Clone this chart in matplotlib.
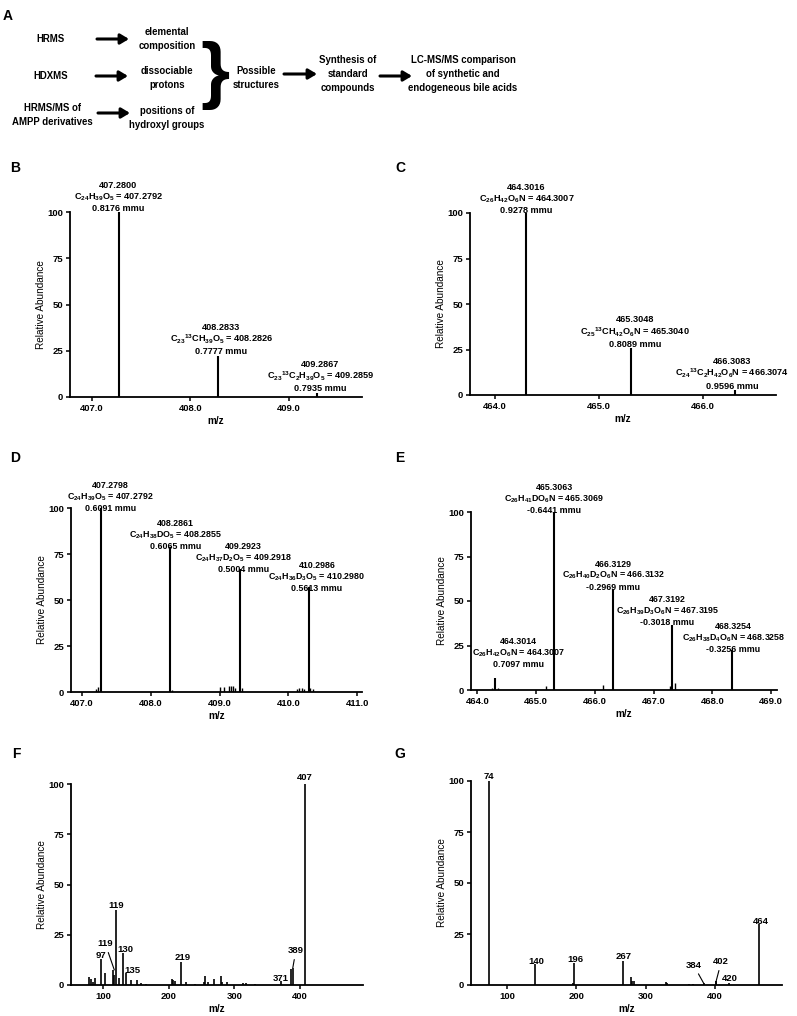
import numpy as np
import matplotlib
matplotlib.use("Agg")
import matplotlib.pyplot as plt

plt.rcParams['font.family'] = ['Liberation Sans', 'DejaVu Sans']
plt.rcParams['mathtext.default'] = 'regular'

W, H = 797, 1016
fig = plt.figure(figsize=(W / 100, H / 100), dpi=100)

# ---- data ----
# panel B: HRMS of bile acid
b_mz = [407.2800, 408.2833, 409.2867]
b_int = [100, 22, 2]
b_txt = ["407.2800\nC$_{24}$H$_{39}$O$_5$ = 407.2792\n0.8176 mmu",
         "408.2833\nC$_{23}$$^{13}$CH$_{39}$O$_5$ = 408.2826\n0.7777 mmu",
         "409.2867\nC$_{23}$$^{13}$C$_2$H$_{39}$O$_5$ = 409.2859\n0.7935 mmu"]
b_off = [(-1, -1), (3, 0), (3, 0)]

# panel C: HRMS of AMPP derivative
c_mz = [464.3016, 465.3048, 466.3083]
c_int = [100, 26, 3]
c_txt = ["464.3016\nC$_{26}$H$_{42}$O$_6$N = 464.3007\n0.9278 mmu",
         "465.3048\nC$_{25}$$^{13}$CH$_{42}$O$_6$N = 465.3040\n0.8089 mmu",
         "466.3083\nC$_{24}$$^{13}$C$_2$H$_{42}$O$_6$N = 466.3074\n0.9596 mmu"]
c_off = [(0, -2), (4, -1), (-3, -1)]

# panel D: HDXMS of bile acid
d_mz = [407.2798, 408.2861, 409.2923, 410.2986]
d_int = [100, 79, 67, 57]
d_minor_mz = [407.20, 407.23, 408.31, 409.00, 409.07, 409.13, 409.16, 409.20, 409.23, 409.33,
              410.12, 410.16, 410.20, 410.23, 410.31, 410.36]
d_minor_int = [1.5, 2.5, 1.0, 2.5, 2.5, 3.0, 3.5, 3.0, 2.0, 2.0, 1.5, 2.0, 2.0, 1.5, 2.0, 1.5]
d_txt = ["407.2798\nC$_{24}$H$_{39}$O$_5$ = 407.2792\n0.6091 mmu",
         "408.2861\nC$_{24}$H$_{38}$DO$_5$ = 408.2855\n0.6065 mmu",
         "409.2923\nC$_{24}$H$_{37}$D$_2$O$_5$ = 409.2918\n0.5004 mmu",
         "410.2986\nC$_{24}$H$_{36}$D$_3$O$_5$ = 410.2980\n0.5613 mmu"]
d_off = [(9, -5), (5, -4), (4, -5), (8, -6)]

# panel E: HDXMS of AMPP derivative
e_mz = [464.3014, 465.3063, 466.3129, 467.3192, 468.3254]
e_int = [6.7, 100, 57, 36.5, 22.5]
e_minor_mz = [464.25, 464.35, 465.17, 466.14, 467.28, 467.36]
e_minor_int = [1.0, 1.0, 2.0, 3.0, 2.0, 4.0]
e_txt = ["464.3014\nC$_{26}$H$_{42}$O$_6$N = 464.3007\n0.7097 mmu",
         "465.3063\nC$_{26}$H$_{41}$DO$_6$N = 465.3069\n-0.6441 mmu",
         "466.3129\nC$_{26}$H$_{40}$D$_2$O$_6$N = 466.3132\n-0.2969 mmu",
         "467.3192\nC$_{26}$H$_{39}$D$_3$O$_6$N = 467.3195\n-0.3018 mmu",
         "468.3254\nC$_{26}$H$_{38}$D$_4$O$_6$N = 468.3258\n-0.3256 mmu"]
e_off = [(23, 9), (0, -3), (0, -3), (-5, -2), (2, -4)]

# panel F: HRMS/MS of bile acid
f_mz = [78, 81, 84, 88, 97, 103, 115, 117, 119, 124, 130, 135, 143, 152, 158, 165,
        205, 207, 209, 219, 226, 240, 253, 255, 260, 269, 279, 281, 289, 313, 317, 331,
        371, 387, 389, 407]
f_int = [4, 3, 1.5, 3.5, 13, 6, 7.5, 5, 37.5, 3.5, 16, 6, 2.5, 2.5, 0.8, 0.5,
         3, 2.5, 2, 11.5, 1.5, 0.3, 1.5, 4.5, 1.5, 3, 4.5, 1.5, 1.5, 1.2, 1, 0.3,
         2, 8, 8.5, 100]
f_lab = ["407", "119", "97", "130", "135", "219", "371"]
f_lab_mz = [407, 119, 97, 130, 135, 219, 371]
f_lab_int = [100, 37.5, 13, 16, 6, 11.5, 2]
f_lab_off = [(0, 2), (1, 0), (0, -1), (3, -1), (6, -2), (1, 0), (0, -2)]
f_lead = ["119", "389"]
f_lead_mz = [117, 389]
f_lead_int = [7.5, 8.5]
f_lead_off = [(-9, 26), (3, 17)]

# panel G: HRMS/MS of AMPP derivative
g_mz = [74, 140, 195, 196, 267, 279, 281, 283, 329, 331, 363, 368, 384, 401, 402, 420, 464]
g_int = [100, 10.5, 1, 11, 12, 4, 2, 2, 1.5, 1, 0.3, 0.3, 0.8, 2, 2, 0.8, 30]
g_lab = ["74", "140", "196", "267", "464", "420"]
g_lab_mz = [74, 140, 196, 267, 464, 420]
g_lab_int = [100, 10.5, 11, 12, 30, 0.8]
g_lab_off = [(0, 0), (2, -2), (2, -1), (1, 0), (2, -2), (1, 0)]
g_lead = ["384", "402"]
g_lead_mz = [384, 402]
g_lead_int = [0.8, 2]
g_lead_off = [(-10, 18), (5, 19)]

# ---- helpers ----
def fx(px):
    return px / W

def fy(py):
    return 1 - py / H

def make_ax(l, t, r, b):
    return fig.add_axes([l / W, 1 - b / H, (r - l) / W, (b - t) / H])

PX = 0.72  # points per pixel

def spectrum(ax, mz, inten, xlim, xticks, fmt, lw=1.5):
    ax.vlines(mz, 0, inten, color='black', lw=lw)
    ax.set_xlim(*xlim)
    ax.set_ylim(0, 100)
    ax.set_yticks([0, 25, 50, 75, 100])
    ax.set_xticks(xticks)
    ax.set_xticklabels([fmt % t for t in xticks])
    for s in ['top', 'right']:
        ax.spines[s].set_visible(False)
    for s in ['left', 'bottom']:
        ax.spines[s].set_linewidth(1.3)
    ax.tick_params(length=3, width=1.1, labelsize=6.8, pad=2)
    for lab in ax.get_xticklabels() + ax.get_yticklabels():
        lab.set_fontweight('bold')
    ax.set_ylabel("Relative Abundance", fontsize=7.2, labelpad=1)
    ax.set_xlabel("m/z", fontsize=7.2, fontweight='bold', labelpad=2)

def peak_labels(ax, mz, inten, texts, offs, fs=6.6):
    for m, h, t, (dx, dy) in zip(mz, inten, texts, offs):
        ax.annotate(t, xy=(m, h), xytext=(dx * PX, dy * PX), textcoords='offset points',
                    ha='center', va='bottom', fontsize=fs, fontweight='bold',
                    linespacing=1.15, annotation_clip=False)

def lead_labels(ax, mz, inten, texts, offs, fs=6.8):
    for m, h, t, (dx, dy) in zip(mz, inten, texts, offs):
        ax.annotate(t, xy=(m, h), xytext=(dx * PX, dy * PX), textcoords='offset points',
                    ha='center', va='center', fontsize=fs, fontweight='bold',
                    arrowprops=dict(arrowstyle='-', lw=0.8, color='black',
                                    shrinkA=1, shrinkB=0))

# ---- panel A: workflow ----
flow_font = dict(fontsize=6.9, fontweight='bold', ha='center', va='center',
                 linespacing=1.55)
fig.text(fx(50), fy(39), "HRMS", **flow_font)
fig.text(fx(51), fy(76), "HDXMS", **flow_font)
fig.text(fx(52), fy(115), "HRMS/MS of\nAMPP derivatives", **flow_font)
fig.text(fx(167), fy(39), "elemental\ncomposition", **flow_font)
fig.text(fx(167), fy(78), "dissociable\nprotons", **flow_font)
fig.text(fx(167), fy(118), "positions of\nhydroxyl groups", **flow_font)
fig.text(fx(256), fy(78), "Possible\nstructures", **flow_font)
fig.text(fx(348), fy(74), "Synthesis of\nstandard\ncompounds", **flow_font)
fig.text(fx(463), fy(74), "LC-MS/MS comparison\nof synthetic and\nendogeneous bile acids", **flow_font)
fig.text(fx(215), fy(75), "}", fontsize=54, fontweight='bold', ha='center', va='center')

arrows = [(97, 129, 39), (96, 128, 76), (98, 130, 113), (284, 317, 74), (380, 412, 76)]
for x0, x1, y in arrows:
    fig.add_artist(matplotlib.patches.FancyArrowPatch(
        (fx(x0), fy(y)), (fx(x1), fy(y)), transform=fig.transFigure,
        arrowstyle='-|>,head_length=5,head_width=3', lw=2.2, color='black',
        shrinkA=0, shrinkB=0))

# panel letters
for lab, x, y in [("A", 8, 16), ("B", 15, 168), ("C", 400, 168), ("D", 15, 458),
                  ("E", 400, 458), ("F", 16, 754), ("G", 400, 754)]:
    fig.text(fx(x), fy(y), lab, fontsize=10, fontweight='bold', ha='center', va='center')

# ---- panel B ----
axB = make_ax(70, 212, 362, 397)
spectrum(axB, b_mz, b_int, (406.78, 409.74), [407.0, 408.0, 409.0], "%.1f")
peak_labels(axB, b_mz, b_int, b_txt, b_off)

# ---- panel C ----
axC = make_ax(470, 213, 776, 395)
spectrum(axC, c_mz, c_int, (463.76, 466.70), [464.0, 465.0, 466.0], "%.1f")
peak_labels(axC, c_mz, c_int, c_txt, c_off)

# ---- panel D ----
axD = make_ax(71, 508, 362, 692)
spectrum(axD, d_mz, d_int, (406.84, 411.07), [407.0, 408.0, 409.0, 410.0, 411.0], "%.1f")
axD.vlines(d_minor_mz, 0, d_minor_int, color='black', lw=1.0)
peak_labels(axD, d_mz, d_int, d_txt, d_off, fs=6.4)

# ---- panel E ----
axE = make_ax(471, 512, 777, 690)
spectrum(axE, e_mz, e_int, (463.89, 469.10), [464.0, 465.0, 466.0, 467.0, 468.0, 469.0], "%.1f")
axE.vlines(e_minor_mz, 0, e_minor_int, color='black', lw=1.0)
peak_labels(axE, e_mz, e_int, e_txt, e_off, fs=6.4)

# ---- panel F ----
axF = make_ax(71, 784, 363, 985)
spectrum(axF, f_mz, f_int, (51, 496), [100, 200, 300, 400], "%d", lw=1.2)
peak_labels(axF, f_lab_mz, f_lab_int, f_lab, f_lab_off, fs=6.8)
lead_labels(axF, f_lead_mz, f_lead_int, f_lead, f_lead_off)

# ---- panel G ----
axG = make_ax(471, 781, 782, 985)
spectrum(axG, g_mz, g_int, (48, 497), [100, 200, 300, 400], "%d", lw=1.2)
peak_labels(axG, g_lab_mz, g_lab_int, g_lab, g_lab_off, fs=6.8)
lead_labels(axG, g_lead_mz, g_lead_int, g_lead, g_lead_off)

fig.savefig("out.png", dpi=100)
